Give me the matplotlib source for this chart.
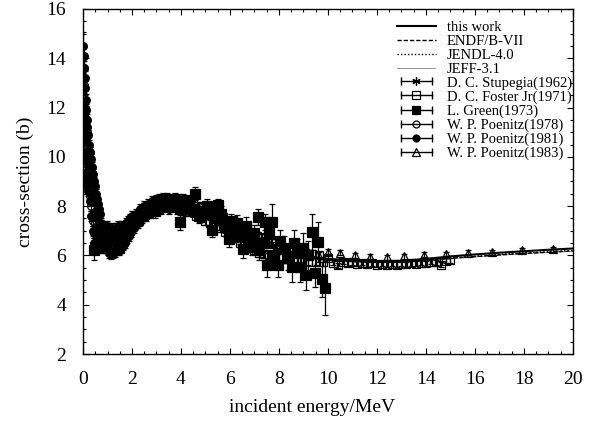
import matplotlib
matplotlib.use('Agg')
import matplotlib.pyplot as plt
from matplotlib.lines import Line2D
from matplotlib.legend_handler import HandlerLine2D, HandlerTuple
from matplotlib.ticker import MultipleLocator

plt.rcParams['font.family'] = ['Liberation Serif', 'DejaVu Serif']

# evaluated curves (MeV, b)
e_eval = [0.0, 0.05, 0.1, 0.15, 0.2, 0.25, 0.3, 0.35, 0.4, 0.5, 0.6, 0.7,
          0.8, 1.0, 1.2, 1.5, 2.0, 2.5, 3.0, 3.5, 4.0, 4.5, 5.0, 5.5, 6.0,
          6.5, 7.0, 7.5, 8.0, 8.5, 9.0, 9.5, 10.0, 11.0, 12.0, 13.0, 14.0,
          15.0, 16.0, 17.0, 18.0, 19.0, 20.0]
this_work = [14.6, 13.6, 12.7, 11.9, 11.2, 10.6, 10.1, 9.6, 9.2, 8.5, 7.9,
             7.4, 7.0, 6.75, 6.65, 6.7, 7.0, 7.5, 7.85, 8.0, 8.0, 7.9, 7.7,
             7.4, 7.1, 6.85, 6.6, 6.4, 6.25, 6.1, 6.0, 5.92, 5.86, 5.8, 5.77,
             5.78, 5.86, 5.96, 6.04, 6.11, 6.17, 6.23, 6.28]
endf_b7 = [14.5, 13.5, 12.6, 11.8, 11.1, 10.5, 10.0, 9.5, 9.1, 8.4, 7.8,
           7.35, 6.95, 6.7, 6.6, 6.7, 7.0, 7.45, 7.8, 7.95, 7.95, 7.85, 7.65,
           7.35, 7.05, 6.8, 6.55, 6.35, 6.2, 6.05, 5.95, 5.88, 5.82, 5.75,
           5.72, 5.73, 5.8, 5.88, 5.95, 6.02, 6.08, 6.13, 6.18]
jendl_4 = [14.5, 13.5, 12.6, 11.8, 11.1, 10.5, 10.0, 9.5, 9.1, 8.4, 7.8,
           7.35, 6.95, 6.7, 6.6, 6.7, 7.0, 7.45, 7.8, 7.95, 7.95, 7.85, 7.65,
           7.35, 7.05, 6.8, 6.55, 6.35, 6.2, 6.05, 5.96, 5.89, 5.83, 5.76,
           5.73, 5.74, 5.81, 5.9, 5.97, 6.04, 6.1, 6.15, 6.2]
jeff_31 = [14.5, 13.5, 12.6, 11.8, 11.1, 10.5, 10.0, 9.5, 9.1, 8.4, 7.8,
           7.35, 6.95, 6.7, 6.6, 6.7, 7.0, 7.45, 7.8, 7.95, 7.95, 7.85, 7.65,
           7.35, 7.05, 6.8, 6.55, 6.35, 6.2, 6.05, 5.95, 5.87, 5.81, 5.74,
           5.71, 5.72, 5.79, 5.87, 5.94, 6.01, 6.07, 6.12, 6.17]

# D. C. Stupegia (1962)
e_stup = [0.02, 0.04, 0.06, 0.08, 0.10, 0.14, 0.2, 0.3, 0.45, 0.6, 0.8, 1.0,
          1.2, 1.4, 1.6, 1.8]
s_stup = [13.0, 11.6, 10.6, 9.8, 9.2, 8.8, 9.2, 8.8, 7.8, 7.2, 6.9, 6.8,
          6.9, 6.8, 6.9, 7.1]
d_stup = [0.4, 0.35, 0.3, 0.3, 0.3, 0.3, 0.3, 0.3, 0.25, 0.25, 0.25, 0.25,
          0.25, 0.25, 0.25, 0.25]

# D. C. Foster Jr (1971)
e_fost = [2.3, 2.5, 2.7, 2.9, 3.1, 3.3, 3.5, 3.7, 3.9, 4.1, 4.3, 4.5, 4.6,
          4.7, 4.8, 4.9, 5.0, 5.1, 5.2, 5.3, 5.4, 5.5, 5.6, 5.7, 5.8, 5.9,
          6.0, 6.1, 6.2, 6.3, 6.4, 6.5, 6.6, 6.7, 6.8, 6.9, 7.0, 7.1, 7.2,
          7.3, 7.4, 7.5, 7.6, 7.7, 7.8, 7.9, 8.0, 8.15, 8.3, 8.45, 8.6, 8.75,
          8.9, 9.05, 9.2, 9.35, 9.5, 9.65, 9.8, 10.0, 10.2, 10.4, 10.6, 10.8,
          11.0, 11.2, 11.4, 11.6, 11.8, 12.0, 12.2, 12.4, 12.6, 12.8, 13.0,
          13.2, 13.4, 13.6, 13.8, 14.0, 14.2, 14.4, 14.6, 14.8, 15.0]
s_fost = [7.4, 7.6, 7.75, 7.85, 7.9, 7.95, 8.0, 7.95, 7.9, 7.9, 7.85, 8.1,
          7.6, 8.0, 7.5, 7.95, 7.4, 7.9, 7.3, 7.8, 7.2, 7.7, 7.1, 7.55, 6.95,
          7.4, 6.8, 7.3, 6.7, 7.2, 6.5, 7.1, 6.4, 7.0, 6.3, 6.9, 6.2, 6.8,
          6.1, 6.7, 6.05, 6.6, 6.0, 6.5, 5.95, 6.4, 5.9, 6.3, 5.85, 6.2, 5.8,
          6.15, 5.8, 6.1, 5.75, 6.05, 5.75, 6.0, 5.72, 5.9, 5.7, 5.6, 5.75,
          5.68, 5.72, 5.66, 5.7, 5.64, 5.68, 5.63, 5.67, 5.62, 5.66, 5.63,
          5.67, 5.64, 5.68, 5.66, 5.7, 5.68, 5.74, 5.72, 5.62, 5.78, 5.8]
d_fost = [0.12, 0.12, 0.12, 0.12, 0.12, 0.12, 0.12, 0.12, 0.12, 0.12, 0.12,
          0.15, 0.15, 0.15, 0.15, 0.15, 0.15, 0.15, 0.15, 0.15, 0.15, 0.15,
          0.15, 0.15, 0.15, 0.15, 0.15, 0.15, 0.15, 0.15, 0.15, 0.15, 0.15,
          0.15, 0.15, 0.15, 0.15, 0.15, 0.15, 0.15, 0.15, 0.15, 0.15, 0.15,
          0.15, 0.15, 0.15, 0.15, 0.15, 0.15, 0.15, 0.15, 0.15, 0.15, 0.15,
          0.15, 0.15, 0.15, 0.15, 0.1, 0.1, 0.1, 0.1, 0.1, 0.1, 0.1, 0.1,
          0.1, 0.1, 0.1, 0.1, 0.1, 0.1, 0.1, 0.1, 0.1, 0.1, 0.1, 0.1, 0.1,
          0.1, 0.1, 0.1, 0.1, 0.1]

# L. Green (1973)
e_green = [0.45, 0.7, 0.95, 1.2, 1.45, 1.7, 1.95, 2.2, 2.45, 2.7, 2.95, 3.2,
           3.45, 3.7, 3.95, 4.2, 4.45, 4.57, 4.75, 4.9, 5.05, 5.15, 5.25,
           5.4, 5.5, 5.65, 5.8, 5.97, 6.05, 6.15, 6.3, 6.4, 6.53, 6.65, 6.8,
           6.9, 7.0, 7.15, 7.2, 7.3, 7.43, 7.5, 7.6, 7.7, 7.8, 7.97, 8.05,
           8.2, 8.35, 8.52, 8.6, 8.75, 8.86, 9.0, 9.1, 9.2, 9.33, 9.47, 9.6,
           9.74, 9.88]
s_green = [6.2, 7.0, 6.4, 6.9, 6.3, 6.8, 7.3, 7.4, 7.7, 7.9, 7.8, 8.2, 8.1,
           8.2, 7.35, 8.1, 7.9, 8.5, 7.6, 7.7, 8.0, 7.8, 7.05, 7.5, 8.05,
           7.7, 7.2, 6.65, 7.4, 7.0, 7.3, 6.8, 6.25, 7.2, 6.7, 6.4, 6.9,
           7.57, 6.2, 6.5, 7.37, 5.61, 6.9, 7.37, 6.0, 5.61, 6.6, 6.3, 5.9,
           5.54, 6.5, 6.1, 5.54, 6.3, 5.21, 6.0, 6.96, 5.3, 6.56, 5.03, 4.67]
d_green = [0.4, 0.3, 0.3, 0.3, 0.3, 0.3, 0.3, 0.3, 0.3, 0.3, 0.3, 0.3, 0.3,
           0.3, 0.3, 0.3, 0.3, 0.26, 0.3, 0.3, 0.3, 0.3, 0.3, 0.3, 0.25,
           0.3, 0.3, 0.3, 0.3, 0.35, 0.35, 0.35, 0.35, 0.35, 0.35, 0.4, 0.35,
           0.33, 0.4, 0.4, 0.33, 0.5, 0.4, 0.72, 0.45, 0.47, 0.45, 0.5, 0.5,
           0.6, 0.55, 0.55, 0.6, 0.6, 0.6, 0.6, 0.72, 0.6, 0.81, 0.72, 1.09]

# W. P. Poenitz (1978)
e_p78 = [0.03, 0.05, 0.07, 0.09, 0.11, 0.13, 0.15, 0.17, 0.19, 0.21, 0.24,
         0.27, 0.30, 0.33, 0.36, 0.39, 0.42, 0.45, 0.48, 0.51, 0.54, 0.57,
         0.60, 0.63, 0.66, 0.70, 0.75, 0.80, 0.85, 0.90, 0.95, 1.00, 1.05,
         1.10, 1.15, 1.20, 1.25, 1.30, 1.35, 1.40, 1.45, 1.50, 1.55, 1.60,
         1.65, 1.70, 1.75, 1.80, 1.85, 1.90, 1.95, 2.05, 2.15, 2.25, 2.35,
         2.45, 2.55, 2.65, 2.75, 2.85, 2.95, 3.05, 3.15, 3.25, 3.35, 3.45,
         3.55, 3.65, 3.75, 3.85, 3.95, 4.05, 4.15, 4.25, 4.35, 4.45, 4.55,
         4.65, 4.75, 4.85, 4.95]
s_p78 = [13.6, 12.9, 12.0, 11.4, 10.8, 10.0, 11.0, 9.4, 10.2, 8.9, 9.9, 8.4,
         9.6, 8.0, 9.1, 7.4, 8.7, 6.9, 8.2, 7.3, 7.8, 6.7, 7.6, 7.0, 7.3,
         6.8, 6.6, 6.9, 6.7, 6.8, 6.6, 6.7, 6.5, 6.6, 6.4, 6.6, 6.5, 6.7,
         6.5, 6.6, 6.7, 6.8, 6.6, 6.8, 6.9, 6.9, 7.0, 7.1, 7.1, 7.2, 7.3,
         7.35, 7.45, 7.6, 7.7, 7.8, 7.85, 7.9, 8.0, 8.0, 8.05, 8.1, 8.1, 8.15,
         8.1, 8.15, 8.1, 8.15, 8.1, 8.1, 8.05, 8.05, 8.0, 8.0, 7.95, 7.95,
         7.9, 7.85, 7.8, 7.75, 7.7]
d_p78 = [0.3, 0.3, 0.3, 0.3, 0.3, 0.25, 0.25, 0.25, 0.25, 0.25, 0.25, 0.25,
         0.2, 0.2, 0.2, 0.2, 0.2, 0.2, 0.2, 0.2, 0.2, 0.2, 0.2, 0.2, 0.2,
         0.2, 0.2, 0.2, 0.2, 0.2, 0.2, 0.2, 0.2, 0.2, 0.2, 0.2, 0.2, 0.2,
         0.2, 0.2, 0.2, 0.2, 0.2, 0.2, 0.2, 0.2, 0.2, 0.2, 0.2, 0.2, 0.2,
         0.2, 0.2, 0.2, 0.2, 0.2, 0.2, 0.2, 0.2, 0.2, 0.2, 0.2, 0.2, 0.2,
         0.2, 0.2, 0.2, 0.2, 0.2, 0.2, 0.2, 0.2, 0.2, 0.2, 0.2, 0.2, 0.2,
         0.2, 0.2, 0.2, 0.2]

# W. P. Poenitz (1981)
e_p81 = [0.02, 0.03, 0.04, 0.05, 0.06, 0.07, 0.08, 0.09, 0.10, 0.11, 0.12,
         0.13, 0.14, 0.15, 0.16, 0.17, 0.18, 0.19, 0.20, 0.22, 0.24, 0.26,
         0.28, 0.30, 0.32, 0.34, 0.36, 0.38, 0.40, 0.42, 0.44, 0.46, 0.48,
         0.50, 0.52, 0.54, 0.56, 0.58, 0.60, 0.62, 0.64, 0.66, 0.68, 0.72,
         0.76, 0.80, 0.84, 0.88, 0.92, 0.96, 1.00, 1.04, 1.08, 1.12, 1.16,
         1.20, 1.24, 1.28, 1.32, 1.36, 1.40, 1.44, 1.48, 1.52, 1.56, 1.60,
         1.64, 1.68, 1.72, 1.76, 1.80, 1.84, 1.88, 1.92, 1.96, 2.00, 2.08,
         2.16, 2.24, 2.32, 2.40, 2.48, 2.56, 2.64, 2.72, 2.80, 2.88, 2.96,
         3.04, 3.12, 3.20, 3.28, 3.36, 3.44, 3.52, 3.60, 3.68, 3.76, 3.84,
         3.92, 4.00, 4.08, 4.16, 4.24, 4.32, 4.40, 4.48]
s_p81 = [14.5, 12.0, 14.1, 10.2, 13.6, 11.4, 13.2, 9.3, 12.8, 10.8, 12.3,
         9.0, 11.9, 10.2, 11.5, 8.8, 11.2, 9.7, 10.9, 8.6, 10.5, 9.2, 10.2,
         8.2, 9.9, 7.6, 9.6, 8.4, 9.3, 7.0, 9.0, 6.5, 8.8, 7.6, 8.5, 6.4,
         8.3, 7.1, 8.1, 6.6, 7.9, 6.3, 7.7, 7.3, 6.3, 7.2, 6.5, 7.1, 6.3,
         7.2, 6.2, 7.1, 6.1, 7.0, 6.05, 7.1, 6.1, 7.0, 6.15, 7.1, 6.2, 7.2,
         6.25, 7.1, 6.3, 7.2, 6.4, 7.2, 6.5, 7.3, 6.7, 7.4, 6.8, 7.5, 6.95,
         7.6, 7.1, 7.7, 7.3, 7.9, 7.5, 8.0, 7.6, 8.1, 7.7, 8.2, 7.8, 8.25,
         7.85, 8.3, 7.9, 8.35, 7.95, 8.35, 7.9, 8.3, 7.95, 8.35, 7.9, 8.3,
         7.85, 8.3, 7.8, 8.25, 7.8, 8.2, 7.75]
d_p81 = [0.55, 0.4, 0.4, 0.35, 0.35, 0.3, 0.3, 0.3, 0.3, 0.25, 0.25, 0.25,
         0.25, 0.25, 0.25, 0.2, 0.2, 0.2, 0.2, 0.2, 0.2, 0.2, 0.2, 0.2, 0.2,
         0.2, 0.2, 0.2, 0.2, 0.2, 0.2, 0.2, 0.2, 0.2, 0.2, 0.2, 0.2, 0.2,
         0.2, 0.2, 0.2, 0.2, 0.2, 0.2, 0.2, 0.2, 0.2, 0.2, 0.2, 0.2, 0.2,
         0.2, 0.2, 0.2, 0.2, 0.2, 0.2, 0.2, 0.2, 0.2, 0.2, 0.2, 0.2, 0.2,
         0.2, 0.2, 0.2, 0.2, 0.2, 0.2, 0.2, 0.2, 0.2, 0.2, 0.2, 0.2, 0.2,
         0.2, 0.2, 0.2, 0.2, 0.2, 0.2, 0.2, 0.2, 0.2, 0.2, 0.2, 0.2, 0.2,
         0.2, 0.2, 0.2, 0.2, 0.2, 0.2, 0.2, 0.2, 0.2, 0.2, 0.2, 0.2, 0.2,
         0.2, 0.2, 0.2, 0.2]

# W. P. Poenitz (1983)
e_p83 = [1.6, 2.1, 2.6, 3.1, 3.6, 4.1, 4.6, 5.1, 5.6, 6.1, 6.6, 7.1, 7.6,
         8.1, 8.6, 9.1, 9.6, 10.0, 10.5, 11.1, 11.7, 12.4, 13.1, 13.9, 14.8,
         15.7, 16.7, 17.9, 19.2]
s_p83 = [6.9, 7.3, 7.7, 8.0, 8.1, 8.05, 7.9, 7.7, 7.45, 7.1, 6.9, 6.65,
         6.45, 6.3, 6.2, 6.1, 6.05, 6.15, 6.1, 6.0, 5.95, 5.92, 5.97, 6.02,
         6.05, 6.1, 6.12, 6.2, 6.25]
d_p83 = [0.1, 0.1, 0.1, 0.1, 0.1, 0.1, 0.1, 0.1, 0.1, 0.1, 0.1, 0.1, 0.1,
         0.1, 0.1, 0.1, 0.1, 0.1, 0.1, 0.1, 0.1, 0.1, 0.1, 0.1, 0.1, 0.1,
         0.1, 0.1, 0.1]


# errorbar set drawn the gnuplot way: black marker, vertical bar with caps
def draw_data(ax, e, s, d, marker, filled, size):
    ax.errorbar(e, s, yerr=d, ls='none', marker=marker, color='k', ms=size,
                mfc='k' if filled else 'none', mec='k', mew=0.9,
                elinewidth=0.9, capsize=2.2, capthick=0.9, zorder=2)


# legend handle: horizontal bar with end caps and the marker in the middle
def data_handle(marker, filled, size, handler_map):
    bar = Line2D([], [], color='k', lw=1.0, marker='|', markersize=6,
                 markeredgewidth=1.0)
    mark = Line2D([], [], color='k', ls='none', marker=marker, markersize=size,
                  mfc='k' if filled else 'none', mec='k', mew=0.9)
    handler_map[bar] = HandlerLine2D(numpoints=2)
    handler_map[mark] = HandlerLine2D(numpoints=1)
    return (bar, mark)


def plot_cross_section():
    fig = plt.figure(figsize=(5.95, 4.26), dpi=100)
    ax = fig.add_axes([0.1395, 0.169, 0.8235, 0.81])

    sets = [
        (e_stup, s_stup, d_stup, (6, 2, 0), True, 6),
        (e_p78, s_p78, d_p78, 'o', False, 5.5),
        (e_p81, s_p81, d_p81, 'o', True, 5.5),
        (e_fost, s_fost, d_fost, 's', False, 6),
        (e_green, s_green, d_green, 's', True, 6.5),
        (e_p83, s_p83, d_p83, '^', False, 6),
    ]
    for e, s, d, marker, filled, size in sets:
        draw_data(ax, e, s, d, marker, filled, size)

    l1, = ax.plot(e_eval, this_work, 'k-', lw=1.5, zorder=4)
    l2, = ax.plot(e_eval, endf_b7, color='k', ls=(0, (3, 1.5)), lw=1.0,
                  zorder=3)
    l3, = ax.plot(e_eval, jendl_4, color='k', ls=(0, (1, 1.5)), lw=1.0,
                  zorder=3)
    l4, = ax.plot(e_eval, jeff_31, color='k', ls=(0, (0.6, 0.6)), lw=0.6,
                  zorder=3)

    ax.set_xlim(0, 20)
    ax.set_ylim(2, 16)
    ax.xaxis.set_major_locator(MultipleLocator(2))
    ax.xaxis.set_minor_locator(MultipleLocator(0.5))
    ax.yaxis.set_major_locator(MultipleLocator(2))
    ax.yaxis.set_minor_locator(MultipleLocator(0.5))
    ax.tick_params(which='both', direction='in', top=True, right=True,
                   labelsize=14, width=0.8)
    ax.tick_params(which='major', length=4.5)
    ax.tick_params(which='minor', length=2.5)
    ax.tick_params(axis='x', pad=12)
    ax.tick_params(axis='y', pad=12)
    for spine in ax.spines.values():
        spine.set_linewidth(1.0)

    ax.set_xlabel('incident energy/MeV', fontsize=14)
    ax.set_ylabel('cross-section (b)', fontsize=14)
    ax.xaxis.set_label_coords(0.468, -0.13)
    ax.yaxis.set_label_coords(-0.1, 0.5)

    handler_map = {}
    handles = [l1, l2, l3, l4,
               data_handle((6, 2, 0), True, 6, handler_map),
               data_handle('s', False, 5.5, handler_map),
               data_handle('s', True, 6, handler_map),
               data_handle('o', False, 5, handler_map),
               data_handle('o', True, 5, handler_map),
               data_handle('^', False, 5.5, handler_map)]
    handler_map[tuple] = HandlerTuple(ndivide=1)
    labels = ['this work', 'ENDF/B-VII', 'JENDL-4.0', 'JEFF-3.1',
              'D. C. Stupegia(1962)', 'D. C. Foster Jr(1971)',
              'L. Green(1973)', 'W. P. Poenitz(1978)', 'W. P. Poenitz(1981)',
              'W. P. Poenitz(1983)']
    ax.legend(handles, labels, handler_map=handler_map, loc='upper left',
              bbox_to_anchor=(0.64, 0.965), frameon=False, fontsize=10.5,
              handlelength=2.7, handletextpad=0.75, labelspacing=0.04,
              borderpad=0, borderaxespad=0)

    fig.savefig('out.png', dpi=100)


if __name__ == '__main__':
    plot_cross_section()
